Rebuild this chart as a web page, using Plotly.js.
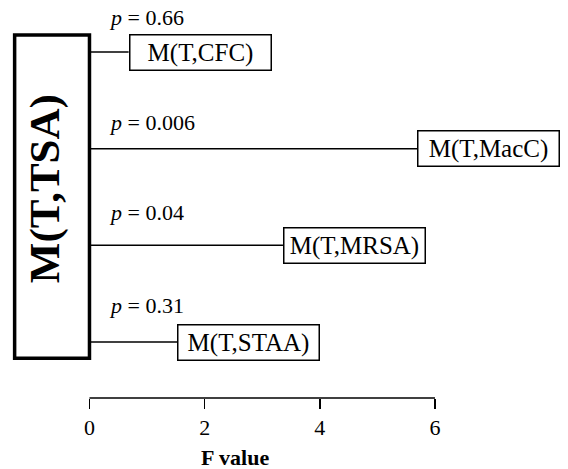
<!DOCTYPE html>
<html>
<head>
<meta charset="utf-8">
<script src="https://cdn.plot.ly/plotly-3.0.1.min.js"></script>
<style>html,body{margin:0;padding:0;background:#fff;}#chart{width:568px;height:469px;}</style>
</head>
<body>
<div id="chart"></div>
<script>
// Data
const categories = ["M(T,CFC)", "M(T,MacC)", "M(T,MRSA)", "M(T,STAA)"];
const fValues = [0.68, 5.69, 3.36, 1.52];
const pValues = ["0.66", "0.006", "0.04", "0.31"];
const tickVals = [0, 2, 4, 6];
const sourceLabel = "M(T,TSA)";
const xTitle = "F value";

// label placement (style only)
const pShift = [35, 26, 33, 37];

const serif = "Liberation Serif, Times New Roman, Times, serif";

// connecting lines from the source box (F = 0) to each model box
const lx = [], ly = [];
categories.forEach((c, i) => { lx.push(0, fValues[i], null); ly.push(c, c, null); });

const traces = [{
  x: lx, y: ly, type: 'scatter', mode: 'lines',
  line: {color: '#000', width: 1.5}, hoverinfo: 'skip', showlegend: false,
  connectgaps: false
}];

const annotations = [];
categories.forEach((c, i) => {
  annotations.push({
    x: fValues[i], y: c, xref: 'x', yref: 'y', xanchor: 'left', yanchor: 'middle',
    text: c, showarrow: false, font: {family: serif, size: 25, color: '#000'},
    bordercolor: '#000', borderwidth: 1.5, borderpad: 1, bgcolor: '#fff',
    width: 138, height: 32, align: 'center'
  });
  annotations.push({
    x: 0.3, y: c, xref: 'x', yref: 'y', xanchor: 'left', yanchor: 'middle', yshift: pShift[i],
    text: '<i>p</i> = ' + pValues[i], showarrow: false,
    font: {family: serif, size: 22, color: '#000'}
  });
});
annotations.push({
  x: -0.77, y: 0.525, xref: 'x', yref: 'paper', yanchor: 'middle', xanchor: 'center',
  text: '<b>' + sourceLabel + '</b>', textangle: -90, showarrow: false,
  font: {family: serif, size: 43, color: '#000'}
});
// x-axis title
annotations.push({
  x: 2.53, y: 0, xref: 'x', yref: 'paper', yanchor: 'middle', xanchor: 'center', yshift: -59,
  text: '<b>' + xTitle + '</b>', showarrow: false,
  font: {family: serif, size: 22, color: '#000'}
});

const layout = {
  width: 568, height: 469,
  margin: {l: 0, r: 0, t: 0, b: 71},
  paper_bgcolor: '#fff', plot_bgcolor: '#fff',
  font: {family: serif, color: '#000'},
  showlegend: false,
  xaxis: {
    range: [-1.554, 8.31], showgrid: false, zeroline: false, showline: false,
    tickmode: 'array', tickvals: tickVals, ticks: 'outside', ticklen: 10,
    tickwidth: 1.5, tickcolor: '#000',
    tickfont: {family: serif, size: 22, color: '#000'},
    fixedrange: true
  },
  yaxis: {
    type: 'category', categoryarray: categories, categoryorder: 'array',
    range: [3.579, -0.538], showgrid: false, zeroline: false, showline: false,
    showticklabels: false, ticks: '', fixedrange: true
  },
  shapes: [
    {type: 'rect', xref: 'x', yref: 'paper', x0: -1.3, x1: 0, y0: 0.1, y1: 0.912,
     line: {color: '#000', width: 3.5}, fillcolor: 'rgba(0,0,0,0)', layer: 'above'},
    {type: 'line', xref: 'x', yref: 'paper', x0: tickVals[0], x1: tickVals[tickVals.length - 1], y0: 0, y1: 0,
     line: {color: '#000', width: 1.5}}
  ],
  annotations: annotations
};

Plotly.newPlot('chart', traces, layout, {displayModeBar: false, staticPlot: true});
</script>
</body>
</html>
